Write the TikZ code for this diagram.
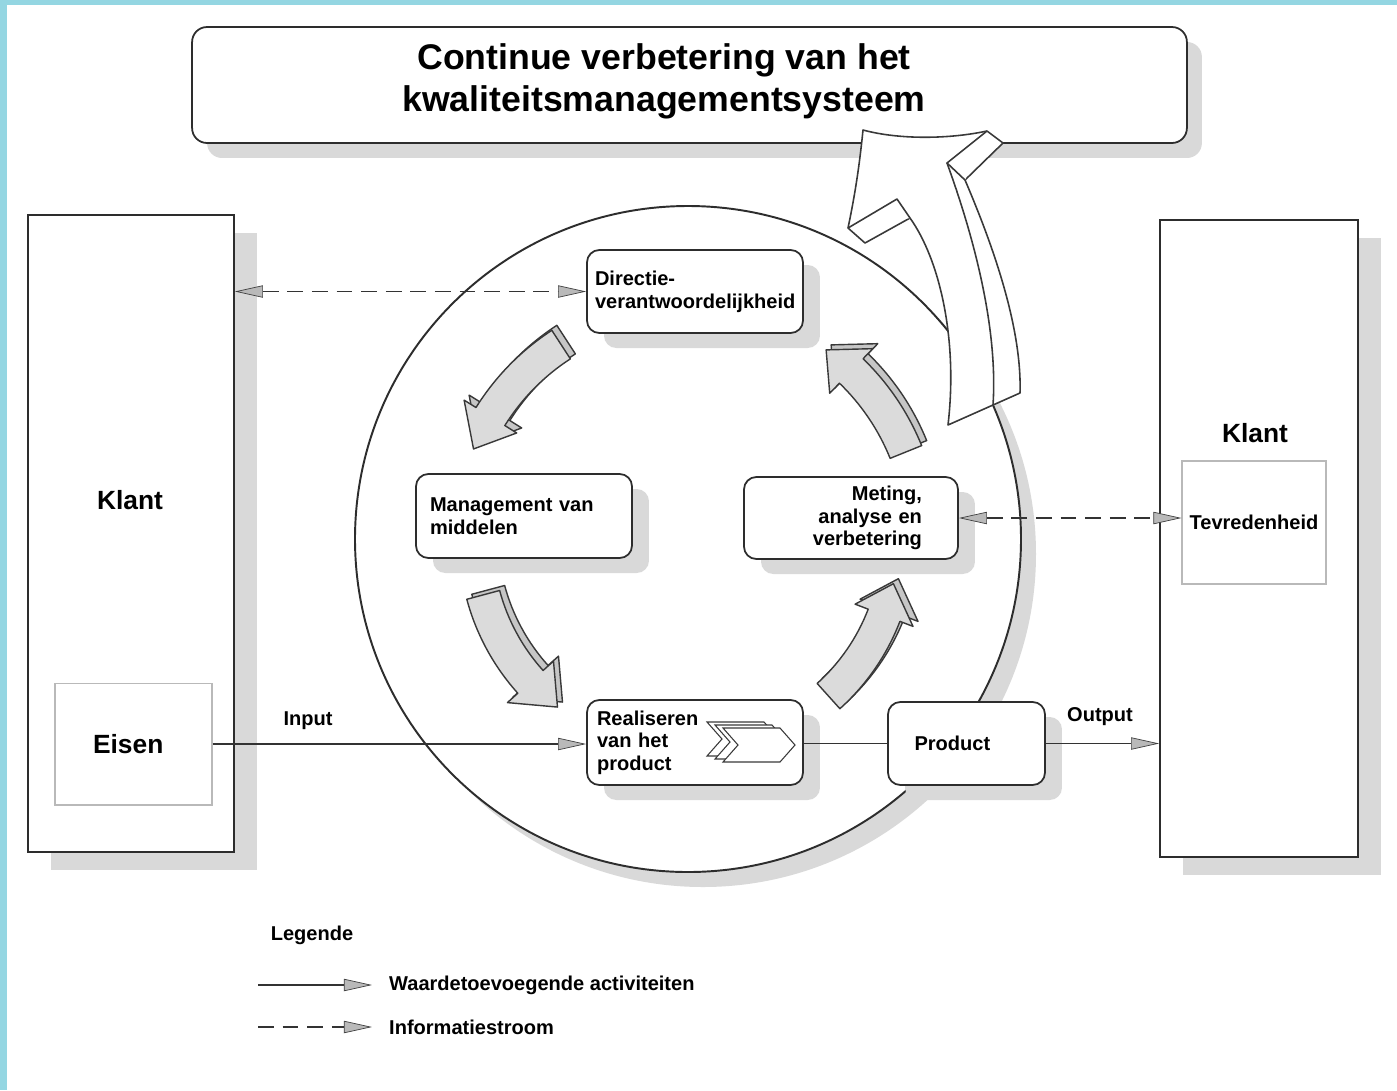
\documentclass[tikz,border=0pt]{standalone}
\usepackage{fontspec}
\setmainfont{Liberation Sans}
\usepackage{tikz}
\usetikzlibrary{arrows.meta}
\usetikzlibrary{calc}
\usetikzlibrary{shadows}

\definecolor{framecyan}{HTML}{94D6E2}
\tikzset{
  gtip/.tip={Triangle[length=16pt,width=7pt,color=gray!50!black,fill=gray!55,line width=0.4pt]},
  smallshadow/.style={drop shadow={shadow xshift=0.34cm,shadow yshift=-0.3cm,fill=gray!30,opacity=1}},
  bigshadow/.style={drop shadow={shadow xshift=0.46cm,shadow yshift=-0.36cm,fill=gray!30,opacity=1}},
  qbox/.style={draw=gray!35!black,line width=1pt,rounded corners=7pt,fill=white,smallshadow,
    inner sep=0pt,font=\bfseries\fontsize{11.4}{12.9}\selectfont},
  klantbox/.style={draw=gray!35!black,line width=1pt,fill=white,bigshadow,inner sep=0pt},
  innerbox/.style={draw=gray!55,line width=0.6pt,fill=white,inner sep=0pt},
  bigtxt/.style={font=\bfseries\fontsize{15}{18}\selectfont},
  smalltxt/.style={font=\bfseries\fontsize{11.4}{13}\selectfont},
  flowline/.style={draw=gray!40!black,line width=0.8pt},
  flow/.style={flowline,-gtip},
  info/.style={flowline,dash pattern=on 9pt off 5pt,gtip-gtip},
  legflow/.style={flowline,-gtip},
  leginfo/.style={flowline,dash pattern=on 9pt off 5pt,-gtip},
  cyclearrow/.style={fill=gray!28,draw=gray!45!black,line width=0.8pt,line join=round},
  cyclearrowside/.style={fill=gray!45,draw=gray!45!black,line width=0.8pt,line join=round},
  bigarrow/.style={fill=white,draw=gray!45!black,line width=0.9pt,line join=round},
  chevron/.style={fill=white,draw=gray!45!black,line width=0.6pt}
}

\begin{document}
\begin{tikzpicture}[x=0.02cm,y=-0.02cm]
  \newcommand{\figqmsarrow}[4]{%
    \begin{scope}[shift={(688,540)}]
      \filldraw[cyclearrowside,shift={(5,-5)}] ({#1}:{#4+17}) arc[start angle={#1},end angle={#2},radius={#4+17}]
        -- ({#2}:{#4+31}) -- ({#3}:{#4}) -- ({#2}:{#4-31}) -- ({#2}:{#4-17})
        arc[start angle={#2},end angle={#1},radius={#4-17}] -- cycle;
      \filldraw[cyclearrow] ({#1}:{#4+17}) arc[start angle={#1},end angle={#2},radius={#4+17}]
        -- ({#2}:{#4+31}) -- ({#3}:{#4}) -- ({#2}:{#4-31}) -- ({#2}:{#4-17})
        arc[start angle={#2},end angle={#1},radius={#4-17}] -- cycle;
    \end{scope}}
  \useasboundingbox (0,0) rectangle (1397,1090);
  \fill[framecyan] (0,0) rectangle (1397,1090);
  \fill[white] (7,5) rectangle (1397,1090);

  \node[draw=gray!35!black,line width=1pt,rounded corners=8.5pt,fill=white,
    drop shadow={shadow xshift=0.3cm,shadow yshift=-0.3cm,fill=gray!30,opacity=1},
    minimum width=19.9cm,minimum height=2.32cm] (title) at (689.5,85) {};
  \node[font=\bfseries\fontsize{20.3}{24}\selectfont,align=center] (titletxt) at (664,81)
    {Continue verbetering van het\\kwaliteitsmanagementsysteem};

  \draw[draw=gray!35!black,line width=1.1pt,fill=white,
    drop shadow={shadow xshift=0.3cm,shadow yshift=-0.3cm,fill=gray!30,opacity=1}]
    (688,539) circle[radius=333];

  \node[klantbox,minimum width=4.12cm,minimum height=12.74cm] (klantL) at (131,533.5) {};
  \node[klantbox,minimum width=3.96cm,minimum height=12.74cm] (klantR) at (1259,538.5) {};
  \node[bigtxt] (klantLtxt) at (130,500) {Klant};
  \node[bigtxt] (klantRtxt) at (1255,433) {Klant};
  \node[innerbox,bigtxt,minimum width=3.14cm,minimum height=2.44cm] (eisen) at (133.5,744) {Eisen\hspace*{6pt}};
  \node[innerbox,smalltxt,minimum width=2.88cm,minimum height=2.46cm] (tev) at (1254,522.5) {Tevredenheid};

  \figqmsarrow{237}{212}{203}{233}
  \figqmsarrow{165}{138}{128}{212}
  \figqmsarrow{48}{21}{12}{210}
  \figqmsarrow{-22}{-46}{-54}{235}

  \node[qbox,minimum width=4.32cm,minimum height=1.66cm,text width=4.0cm,align=left] (dir) at (695,291.5)
    {Directie-\\verantwoordelijkheid};
  \node[qbox,minimum width=4.32cm,minimum height=1.68cm,text width=3.76cm,align=left] (man) at (524,516)
    {Management van\\middelen};
  \node[qbox,minimum width=4.28cm,minimum height=1.64cm,text width=2.84cm,align=right] (met) at (851,518)
    {Meting,\\analyse en\\verbetering};
  \node[qbox,minimum width=4.32cm,minimum height=1.7cm,text width=3.92cm,align=left] (real) at (695,742.5)
    {Realiseren\\van het\\product};
  \node[qbox,minimum width=3.14cm,minimum height=1.66cm,text width=2.08cm,align=left] (prod) at (966.5,743.5)
    {Product};

  \foreach \dx/\dy in {-16/-6,-8/-3,0/0}
    \filldraw[chevron,shift={(\dx,\dy)}] (723,728) -- (780,728) -- (795,745) -- (780,762) -- (723,762) -- (738,745) -- cycle;

  \draw[flow] (eisen.east) -- (eisen.east -| real.west);
  \draw[flowline] (real.east |- prod.west) -- (prod.west);
  \draw[flow] (prod.east) -- (prod.east -| klantR.west);
  \draw[info] (klantL.east |- dir.west) -- (dir.west);
  \draw[info] (met.east) -- (met.east -| tev.west);
  \node[smalltxt] (input) at (308,721) {Input};
  \node[smalltxt] (output) at (1100,717) {Output};

  \filldraw[bigarrow] (863,130) .. controls (900,140) and (950,139) .. (987,131) -- (1003,143) -- (965,180)
    .. controls (995,250) and (1022,330) .. (1020,393) -- (993,405) -- (948,425)
    .. controls (958,340) and (940,260) .. (910,218) -- (865,243) -- (848,228)
    .. controls (856,190) and (860,160) .. (863,130) -- cycle;
  \draw[bigarrow] (987,131) -- (947,163) -- (965,180);
  \draw[bigarrow] (947,163) .. controls (975,240) and (998,330) .. (993,405);
  \draw[bigarrow] (848,228) -- (897,199) -- (910,218);

  \node[smalltxt] (legend) at (312,935) {Legende};
  \coordinate (lega1) at (258,985);
  \coordinate (lega2) at (372,985);
  \coordinate (legb1) at (258,1027);
  \coordinate (legb2) at (372,1027);
  \draw[legflow] (lega1) -- (lega2);
  \draw[leginfo] (legb1) -- (legb2);
  \node[smalltxt,anchor=west] (legatxt) at (383,985) {Waardetoevoegende activiteiten};
  \node[smalltxt,anchor=west] (legbtxt) at (383,1027) {Informatiestroom};
\end{tikzpicture}
\end{document}
